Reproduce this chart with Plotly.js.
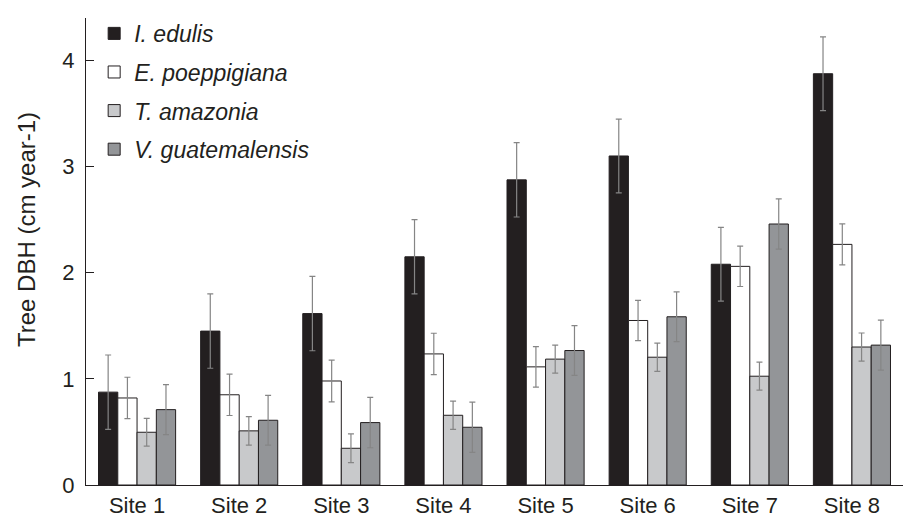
<!DOCTYPE html>
<html>
<head>
<meta charset="utf-8">
<script src="https://cdn.plot.ly/plotly-3.0.1.min.js"></script>
<style>
html,body{margin:0;padding:0;background:#fff;}
#chart{width:907px;height:517px;}
</style>
</head>
<body>
<div id="chart"></div>
<script>
const sites = ["Site 1","Site 2","Site 3","Site 4","Site 5","Site 6","Site 7","Site 8"];
const speciesNames = ["I. edulis","E. poeppigiana","T. amazonia","V. guatemalensis"];
const yTitle = "Tree DBH (cm year-1)";

const edulis      = [0.875, 1.45, 1.615, 2.15, 2.875, 3.10, 2.08, 3.875];
const edulisErr   = [0.35, 0.35, 0.35, 0.35, 0.35, 0.347, 0.347, 0.348];
const poepp       = [0.82, 0.85, 0.98, 1.235, 1.113, 1.55, 2.06, 2.267];
const poeppErr    = [0.195, 0.195, 0.197, 0.195, 0.19, 0.19, 0.19, 0.193];
const amazonia    = [0.497, 0.51, 0.346, 0.657, 1.186, 1.204, 1.025, 1.30];
const amazoniaErr = [0.13, 0.135, 0.135, 0.133, 0.132, 0.133, 0.132, 0.132];
const guate       = [0.71, 0.61, 0.588, 0.544, 1.267, 1.585, 2.459, 1.318];
const guateErr    = [0.235, 0.235, 0.237, 0.237, 0.235, 0.235, 0.236, 0.235];

const values = [edulis, poepp, amazonia, guate];
const errs = [edulisErr, poeppErr, amazoniaErr, guateErr];
const colors = ["#231f20", "#ffffff", "#c8c9cb", "#939598"];

const traces = speciesNames.map((n, i) => ({
  type: "bar",
  name: n,
  legendgroup: "g" + i,
  x: sites,
  y: values[i],
  marker: {color: colors[i], line: {color: "#231f20", width: 1}},
  error_y: {type: "data", array: errs[i], visible: true, color: "#858585", thickness: 1.2, width: 3}
}));

const layout = {
  width: 907, height: 517,
  margin: {l: 86, r: 4, t: 18, b: 32},
  paper_bgcolor: "#ffffff",
  plot_bgcolor: "#ffffff",
  font: {family: "Liberation Sans, Arial, sans-serif", color: "#231f20", size: 22},
  barmode: "group",
  bargap: 0.245,
  bargroupgap: 0,
  showlegend: true,
  legend: {
    x: 0.01, y: 1.013, xanchor: "left", yanchor: "top",
    bgcolor: "rgba(0,0,0,0)",
    font: {size: 23, style: "italic", color: "#231f20"},
    tracegroupgap: 5.7,
    itemclick: false
  },
  xaxis: {
    type: "category",
    range: [-0.5, 7.5],
    showline: true, linecolor: "#231f20", linewidth: 1.2,
    ticks: "", showgrid: false, zeroline: false,
    tickfont: {size: 22},
    ticklabelstandoff: 0
  },
  yaxis: {
    range: [0, 4.4],
    tickvals: [0, 1, 2, 3, 4],
    showline: true, linecolor: "#231f20", linewidth: 1.2,
    ticks: "inside", ticklen: 8, tickcolor: "#231f20", tickwidth: 1,
    showgrid: false, zeroline: false,
    tickfont: {size: 22},
    ticklabelstandoff: 6
  },
  annotations: [{
    text: yTitle, textangle: -90, showarrow: false,
    xref: "paper", yref: "paper", x: -0.0734, y: 0.546,
    xanchor: "center", yanchor: "middle",
    font: {size: 24, color: "#231f20"}
  }]
};

Plotly.newPlot("chart", traces, layout, {staticPlot: true});
</script>
</body>
</html>
